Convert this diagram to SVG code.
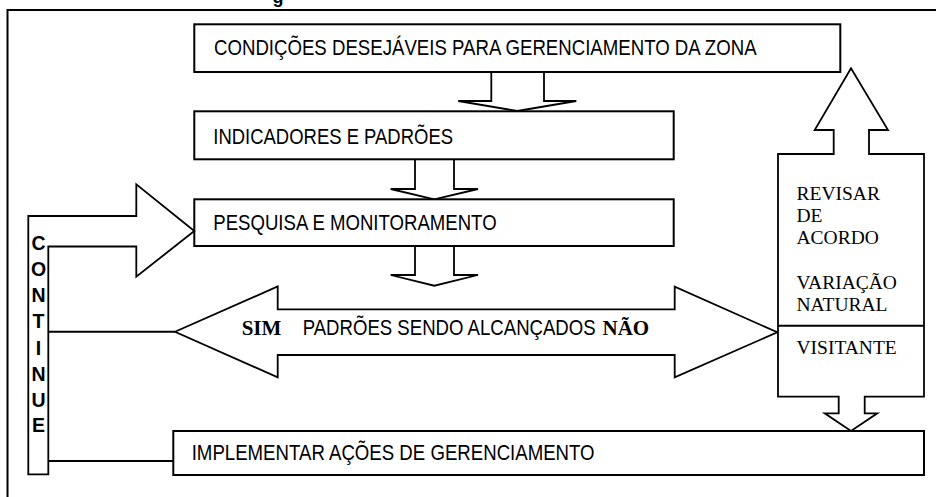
<svg xmlns="http://www.w3.org/2000/svg" width="936" height="497" viewBox="0 0 936 497">
<style>
.box{fill:#fff;stroke:#000;stroke-width:2}
.shape{fill:#fff;stroke:#000;stroke-width:1.8;stroke-linejoin:miter}
.line{fill:none;stroke:#000;stroke-width:2}
.t{font-family:"Liberation Sans",Arial,sans-serif;font-size:22px;fill:#000}
.s{font-family:"Liberation Serif","Times New Roman",serif;font-size:19.5px;fill:#000}
.sb{font-family:"Liberation Serif","Times New Roman",serif;font-size:21px;font-weight:bold;fill:#000}
.v{font-family:"Liberation Sans",Arial,sans-serif;font-size:19.5px;font-weight:bold;fill:#000;text-anchor:middle}
</style>
<rect width="936" height="497" fill="#fff"/>
<text x="272.5" y="3" font-family="Liberation Sans, Arial, sans-serif" font-size="18" font-weight="bold">g</text>
<path class="line" d="M936,10 H7.5 V497"/>

<g id="connectors">
  <path class="shape" d="M491.3,72 V101 H458.3 L517.3,111 L576.3,101 H544 V72"/>
  <path class="shape" d="M415,159.3 V189 H390.7 L434.3,199.3 L478,189 H454 V159.3"/>
  <path class="shape" d="M415,246 V275 H390.7 L434.3,285.7 L478,275 H454 V246"/>
  <line class="line" x1="48.3" y1="331.7" x2="175" y2="331.7"/>
  <line class="line" x1="48.3" y1="461" x2="173.3" y2="461"/>
</g>

<g id="condicoes">
  <rect class="box" x="194.3" y="24.3" width="646" height="47.7"/>
  <text class="t" transform="translate(214,55) scale(0.847,1)">CONDIÇÕES DESEJÁVEIS PARA GERENCIAMENTO DA ZONA</text>
</g>

<g id="indicadores">
  <rect class="box" x="194.3" y="111.3" width="479.4" height="48"/>
  <text class="t" transform="translate(213.3,143.5) scale(0.84,1)">INDICADORES E PADRÕES</text>
</g>

<g id="pesquisa">
  <rect class="box" x="194.3" y="199.3" width="479.4" height="46.7"/>
  <text class="t" transform="translate(213.3,230) scale(0.845,1)">PESQUISA E MONITORAMENTO</text>
</g>

<g id="continue">
  <path class="shape" d="M28.3,474.3 V216 H136.3 V184.3 L194.3,231 L136.3,276.7 V246.5 H48.3 V474.3 Z"/>
  <text class="v" x="38.5" y="250">C</text>
  <text class="v" x="38.5" y="276">O</text>
  <text class="v" x="38.5" y="302">N</text>
  <text class="v" x="38.5" y="328">T</text>
  <text class="v" x="38.5" y="355">I</text>
  <text class="v" x="38.5" y="381">N</text>
  <text class="v" x="38.5" y="407">U</text>
  <text class="v" x="38.5" y="432">E</text>
</g>

<g id="padroes">
  <path class="shape" d="M175,331.7 L277.7,286.5 V309.3 H674.7 V286.7 L777.3,332.3 L674.7,377.3 V355 H277.7 V377.3 Z"/>
  <text class="sb" x="241.7" y="334.5">SIM</text>
  <text class="t" transform="translate(302.7,334.5) scale(0.845,1)">PADRÕES SENDO ALCANÇADOS</text>
  <text class="sb" x="602.5" y="334.5">NÃO</text>
</g>

<g id="revisar">
  <path class="shape" d="M778,396.7 V154 H833.7 V130 H814.7 L851,68.3 L888,130 H869 V154 H924 V396.7 H864.7 V413.3 H877.3 L851,431 L824.7,413.3 H838.7 V396.7 Z"/>
  <line class="line" x1="778" y1="325.7" x2="924" y2="325.7"/>
  <text class="s" x="796.5" y="199.5">REVISAR</text>
  <text class="s" x="796.5" y="221.5">DE</text>
  <text class="s" x="796.5" y="243.5">ACORDO</text>
  <text class="s" x="796.5" y="289.3">VARIAÇÃO</text>
  <text class="s" x="796.5" y="310.7">NATURAL</text>
  <text class="s" x="796.5" y="354">VISITANTE</text>
</g>

<g id="implementar">
  <rect class="box" x="173.3" y="431" width="750.7" height="44"/>
  <text class="t" transform="translate(191.7,459.5) scale(0.847,1)">IMPLEMENTAR AÇÕES DE GERENCIAMENTO</text>
</g>
</svg>
